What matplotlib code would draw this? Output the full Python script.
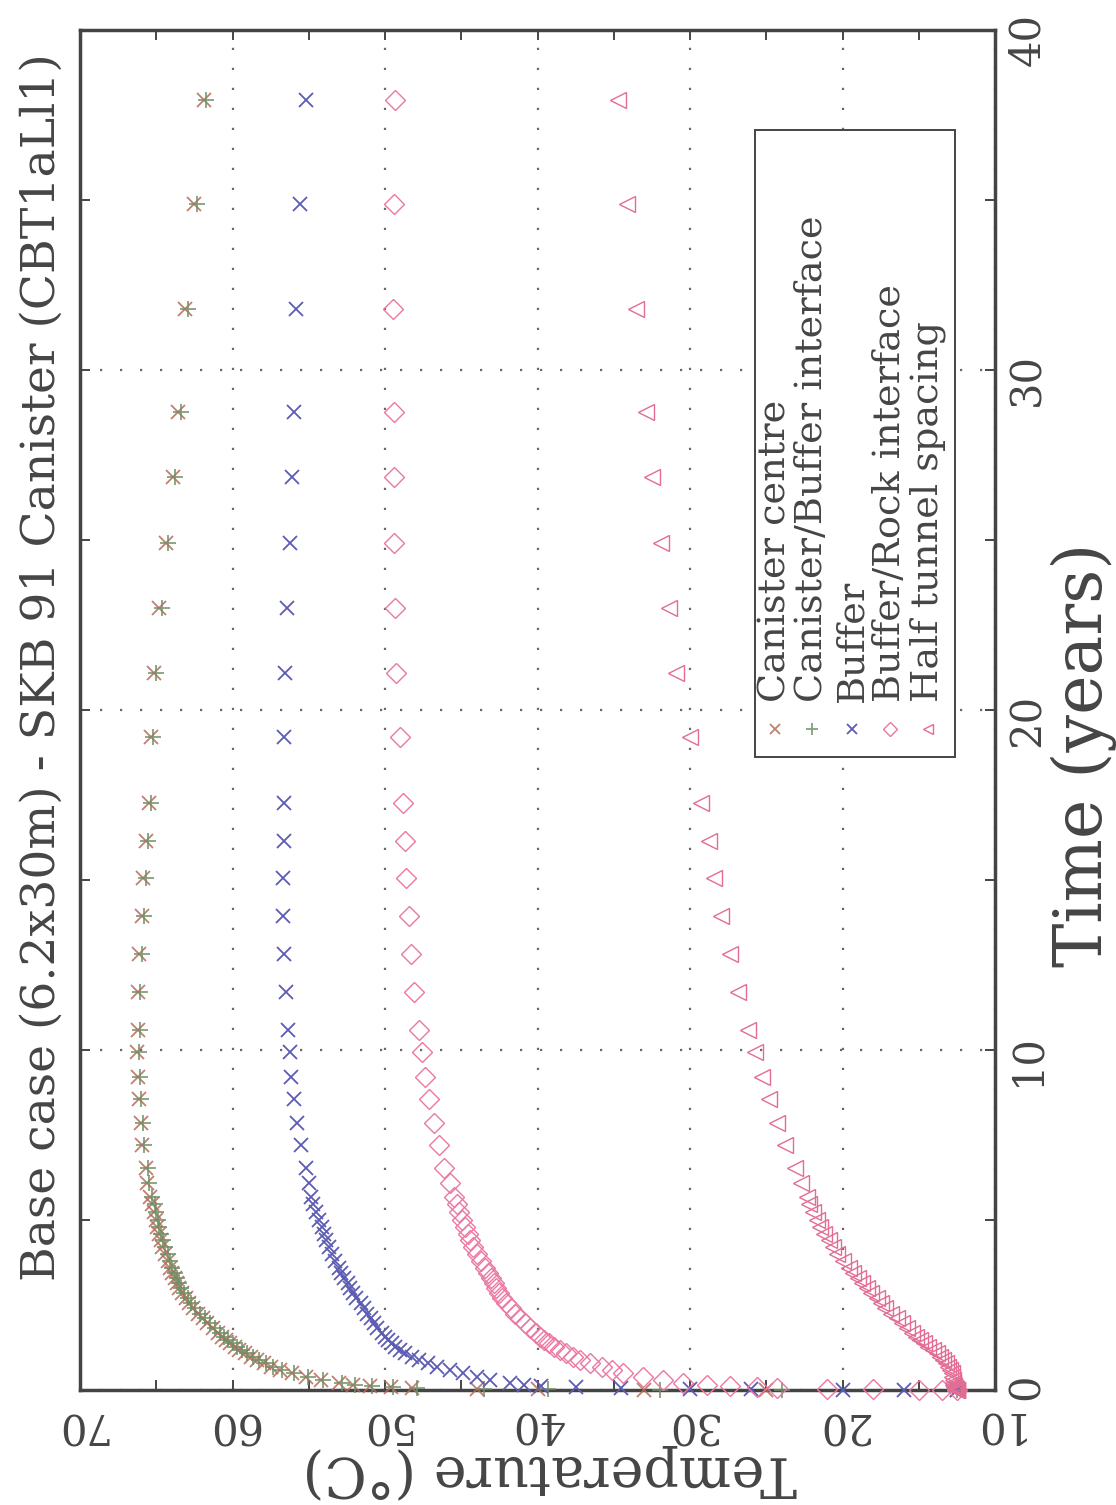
import numpy as np
import matplotlib
matplotlib.use('Agg')
import matplotlib.pyplot as plt
from matplotlib.patches import Rectangle

# time (years) and temperatures (deg C)
time_yr = [0.0, 0.005, 0.01, 0.02, 0.03, 0.05, 0.08, 0.12, 0.16, 0.21,
           0.29, 0.39, 0.49, 0.59, 0.69, 0.78, 0.88, 0.98, 1.08, 1.18,
           1.27, 1.37, 1.47, 1.57, 1.67, 1.81, 1.96, 2.11, 2.25, 2.4,
           2.55, 2.7, 2.85, 3.0, 3.15, 3.3, 3.45, 3.6, 3.8, 4.0,
           4.2, 4.4, 4.6, 4.8, 5.0, 5.25, 5.47, 5.69, 6.1, 6.52,
           7.2, 7.84, 8.55, 9.21, 9.93, 10.6, 11.7, 12.82, 13.94, 15.05,
           16.16, 17.27, 19.2, 21.09, 23.0, 24.9, 26.84, 28.75, 31.8, 34.87,
           37.93]

canister_centre = [12.5, 25.0, 33.0, 40.0, 44.0, 48.2, 49.6, 51.0, 52.1, 53.0,
                   54.2, 55.2, 56.1, 56.9, 57.5, 57.95, 58.4, 58.8, 59.2, 59.55,
                   59.85, 60.15, 60.45, 60.7, 60.95, 61.3, 61.65, 61.95, 62.25, 62.6,
                   62.85, 63.05, 63.3, 63.5, 63.65, 63.8, 63.95, 64.1, 64.25, 64.4,
                   64.6, 64.7, 64.85, 64.95, 65.05, 65.15, 65.25, 65.4, 65.6, 65.7,
                   65.95, 66.0, 66.15, 66.2, 66.25, 66.2, 66.2, 66.1, 65.95, 65.85,
                   65.7, 65.5, 65.35, 65.15, 64.8, 64.35, 63.9, 63.55, 63.1, 62.5,
                   61.9]

canister_buffer = [12.5, 24.0, 32.0, 39.3, 43.5, 47.9, 49.45, 50.85, 51.95, 52.85,
                   54.05, 55.05, 55.95, 56.75, 57.35, 57.8, 58.25, 58.65, 59.05, 59.4,
                   59.7, 60.0, 60.3, 60.55, 60.8, 61.15, 61.5, 61.8, 62.1, 62.45,
                   62.7, 62.9, 63.15, 63.35, 63.5, 63.65, 63.8, 63.95, 64.1, 64.25,
                   64.45, 64.55, 64.7, 64.8, 64.9, 65.0, 65.1, 65.25, 65.45, 65.55,
                   65.8, 65.85, 66.0, 66.05, 66.1, 66.05, 66.05, 65.95, 65.8, 65.7,
                   65.55, 65.35, 65.2, 65.0, 64.65, 64.2, 63.75, 63.4, 62.95, 62.35,
                   61.75]

buffer_mid = [12.5, 16.0, 20.0, 26.0, 30.0, 34.5, 37.5, 39.8, 40.9, 41.8,
              43.1, 44.0, 44.9, 45.74, 46.6, 47.2, 47.8, 48.25, 48.7, 49.05,
              49.35, 49.56, 49.8, 50.0, 50.2, 50.5, 50.7, 50.95, 51.15, 51.35,
              51.6, 51.9, 52.1, 52.3, 52.45, 52.7, 52.9, 53.05, 53.25, 53.45,
              53.65, 53.85, 54.0, 54.15, 54.3, 54.5, 54.7, 54.85, 54.96, 55.2,
              55.5, 55.8, 55.95, 56.14, 56.2, 56.35, 56.5, 56.6, 56.7, 56.7,
              56.65, 56.65, 56.65, 56.55, 56.4, 56.25, 56.1, 56.0, 55.85, 55.55,
              55.2]

buffer_rock = [12.5, 13.5, 15.0, 18.0, 21.0, 24.3, 25.6, 27.4, 28.9, 30.44,
               31.75, 33.06, 34.37, 35.1, 35.8, 36.56, 37.2, 37.65, 38.1, 38.55,
               38.9, 39.25, 39.55, 39.84, 40.1, 40.49, 40.8, 41.15, 41.45, 41.75,
               42.05, 42.3, 42.5, 42.7, 42.85, 43.05, 43.25, 43.45, 43.7, 43.95,
               44.2, 44.4, 44.55, 44.75, 44.95, 45.15, 45.3, 45.45, 45.76, 46.1,
               46.47, 46.8, 47.1, 47.4, 47.6, 47.8, 48.1, 48.27, 48.45, 48.6,
               48.7, 48.8, 49.05, 49.3, 49.35, 49.4, 49.4, 49.4, 49.45, 49.4,
               49.35]

half_tunnel = [12.5, 12.5, 12.5, 12.55, 12.6, 12.65, 12.7, 12.72, 12.74, 12.74,
               12.76, 12.8, 12.84, 12.95, 13.06, 13.2, 13.4, 13.6, 13.82, 14.1,
               14.37, 14.65, 14.92, 15.2, 15.46, 15.75, 16.1, 16.45, 16.8, 17.2,
               17.5, 17.76, 18.1, 18.4, 18.7, 19.0, 19.3, 19.6, 20.0, 20.35,
               20.65, 20.9, 21.2, 21.45, 21.7, 21.95, 22.2, 22.35, 22.7, 23.1,
               23.74, 24.3, 24.8, 25.27, 25.77, 26.2, 26.86, 27.4, 27.96, 28.4,
               28.77, 29.26, 30.0, 30.9, 31.4, 31.9, 32.48, 32.86, 33.54, 34.13,
               34.7]

labels = ['Canister centre', 'Canister/Buffer interface', 'Buffer',
          'Buffer/Rock interface', 'Half tunnel spacing']
temp_ticks = [70, 60, 50, 40, 30, 20, 10]
time_ticks = [0, 10, 20, 30, 40]

plt.rcParams['font.family'] = 'DejaVu Serif'
ink = '#454545'

fig = plt.figure(figsize=(11.16, 15.05), dpi=100)
ax = fig.add_axes([0.0717, 0.0764, 0.8199, 0.9037])

# the page is turned: temperature runs across, time runs up
styles = [dict(marker='x', color='#b86a58', ms=10, mew=1.3, alpha=0.85),
          dict(marker='+', color='#6e8f66', ms=12, mew=1.3, alpha=0.85),
          dict(marker='x', color='#5c5cb4', ms=10, mew=1.3),
          dict(marker='D', color='#ea78a2', ms=10, mew=1.0, mfc='none'),
          dict(marker='<', color='#e26c94', ms=11, mew=1.0, mfc='none')]
series = [canister_centre, canister_buffer, buffer_mid, buffer_rock, half_tunnel]
for temps, st in zip(series, styles):
    ax.plot(temps, time_yr, ls='none', clip_on=False, zorder=3, **st)

ax.set_xlim(70, 10)
ax.set_ylim(0, 40)
ax.set_xticks(temp_ticks)
ax.set_xticks([65, 55, 45, 35, 25, 15], minor=True)
ax.set_yticks(time_ticks)
ax.set_yticks([5, 15, 25, 35], minor=True)
ax.tick_params(which='both', direction='in', length=7, width=1.4, color=ink,
               top=True, bottom=True, left=True, right=True)
ax.tick_params(axis='x', labelrotation=180, labelsize=30, pad=10, labelcolor=ink)
ax.tick_params(axis='y', labelleft=False, labelright=True, labelrotation=90,
               labelsize=30, pad=8, labelcolor=ink)
ax.grid(True, which='major', ls=(0, (1, 8)), lw=1.6, color='#6a6a6a')
for sp in ax.spines.values():
    sp.set_linewidth(2.5)
    sp.set_color('#444444')

# legend drawn by hand so the text can run up the page
ax.add_patch(Rectangle((0.738, 0.4654), 0.218, 0.461, transform=ax.transAxes,
                       facecolor='white', edgecolor='#444444', lw=1.4, zorder=5))
leg_x = [0.7596, 0.8, 0.8437, 0.885, 0.9268]
for xx, lab, st in zip(leg_x, labels, styles):
    st2 = dict(st)
    st2['ms'] = st2['ms'] * 0.7
    ax.plot([xx], [0.486], transform=ax.transAxes, ls='none', zorder=6, **st2)
    ax.text(xx, 0.506, lab, transform=ax.transAxes, rotation=90, ha='center',
            va='bottom', fontsize=27.5, color=ink, zorder=6)

fig.text(42 / 1116, 1 - 667 / 1505, 'Base case (6.2x30m) - SKB 91 Canister (CBT1aLl1)',
         rotation=90, ha='center', va='center', fontsize=34, color=ink)
fig.text(1084 / 1116, 1 - 755 / 1505, 'Time (years)', rotation=90,
         ha='center', va='center', fontsize=48, color=ink)
fig.text(550 / 1116, 1 - 1471 / 1505, 'Temperature (°C)', rotation=180,
         ha='center', va='center', fontsize=40, color=ink)

fig.savefig('out.png', dpi=100)
plt.close()
